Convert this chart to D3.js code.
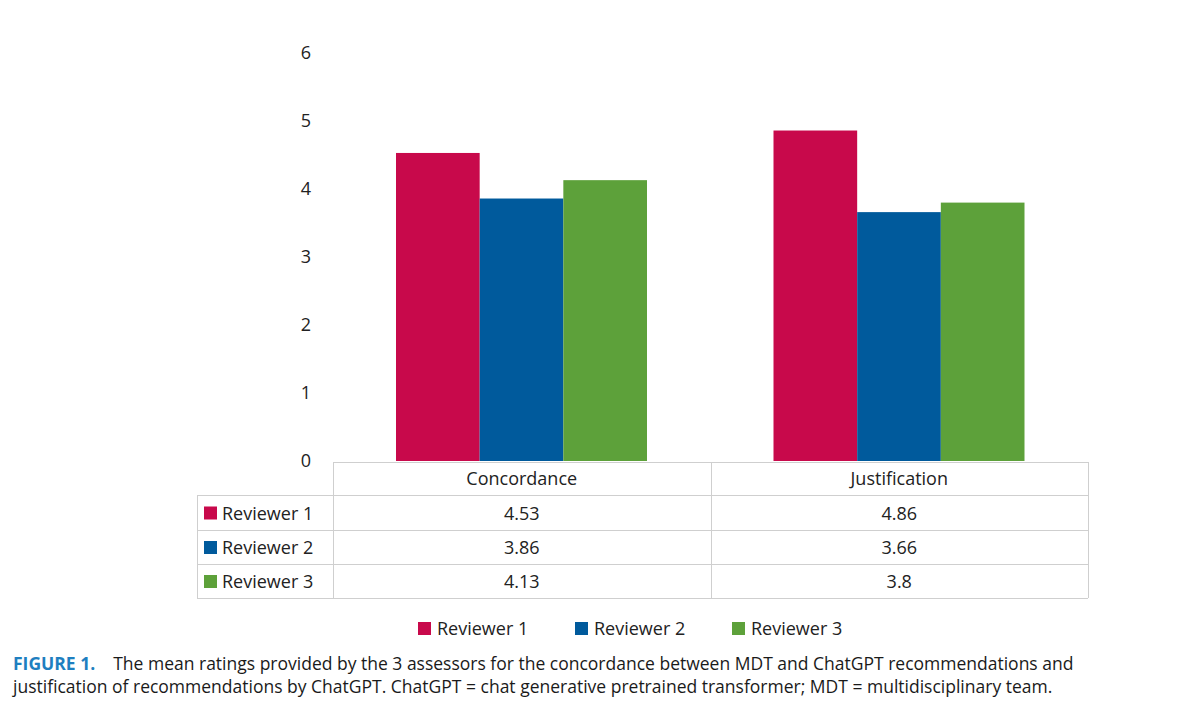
<!DOCTYPE html>
<html><head><meta charset="utf-8">
<script src="https://cdn.jsdelivr.net/npm/d3@7"></script>
<style>body{margin:0;background:#fff}svg{font-family:"Open Sans",sans-serif}</style>
</head><body><svg id="c" width="1200" height="716"></svg>
<script>
const categories = ["Concordance", "Justification"];
const seriesNames = ["Reviewer 1", "Reviewer 2", "Reviewer 3"];
const reviewer1 = [4.53, 4.86];
const reviewer2 = [3.86, 3.66];
const reviewer3 = [4.13, 3.8];
const valueLabels = [["4.53","4.86"],["3.86","3.66"],["4.13","3.8"]];
const yTicks = [0,1,2,3,4,5,6];
const colors = ["#C8094B", "#005A9C", "#5DA13A"];
const series = [reviewer1, reviewer2, reviewer3];

const svg = d3.select("#c");
const x0 = d3.scaleBand().domain(categories).range([333, 1088]).paddingInner(0).paddingOuter(0);
const x1 = d3.scaleBand().domain(seriesNames).range([63, 314]);
const y = d3.scaleLinear().domain([0, 6]).range([461, 53]);

// y axis labels
svg.selectAll(".yt").data(yTicks).enter().append("text")
  .attr("x", 311).attr("y", d => y(d) + 6).attr("text-anchor", "end")
  .attr("font-size", 18).attr("fill", "#222").text(d => d);

// bars
seriesNames.forEach((s, i) => {
  svg.selectAll(".b" + i).data(categories).enter().append("rect")
    .attr("x", c => x0(c) + x1(s)).attr("width", x1.bandwidth())
    .attr("y", (c, j) => y(series[i][j])).attr("height", (c, j) => y(0) - y(series[i][j]))
    .attr("fill", colors[i]);
});

// table
const rowY = [462, 495, 530, 564, 598];
const gc = "#cfcfcf";
const g = svg.append("g").attr("stroke", gc).attr("stroke-width", 1);
g.append("line").attr("x1", 333).attr("x2", 1088).attr("y1", rowY[0]+0.5).attr("y2", rowY[0]+0.5);
for (let r = 1; r < rowY.length; r++)
  g.append("line").attr("x1", 197).attr("x2", 1088).attr("y1", rowY[r]+0.5).attr("y2", rowY[r]+0.5);
[333, 711, 1088].forEach(xx => g.append("line").attr("x1", xx+0.5).attr("x2", xx+0.5).attr("y1", rowY[0]).attr("y2", rowY[4]));
g.append("line").attr("x1", 197.5).attr("x2", 197.5).attr("y1", rowY[1]).attr("y2", rowY[4]);

categories.forEach(c => svg.append("text").attr("x", x0(c) + x0.bandwidth()/2).attr("y", 485)
  .attr("text-anchor", "middle").attr("font-size", 18).attr("fill", "#222").text(c));
seriesNames.forEach((s, i) => {
  const cy = (rowY[i+1] + rowY[i+2]) / 2;
  svg.append("rect").attr("x", 204).attr("y", cy - 6).attr("width", 13).attr("height", 13).attr("fill", colors[i]);
  svg.append("text").attr("x", 222).attr("y", cy + 7).attr("font-size", 18).attr("fill", "#222").text(s);
  categories.forEach((c, j) => svg.append("text").attr("x", x0(c) + x0.bandwidth()/2).attr("y", cy + 7)
    .attr("text-anchor", "middle").attr("font-size", 18).attr("fill", "#222").text(valueLabels[i][j]));
});

// legend
const legX = [418, 575, 732];
seriesNames.forEach((s, i) => {
  svg.append("rect").attr("x", legX[i]).attr("y", 622).attr("width", 13).attr("height", 13).attr("fill", colors[i]);
  svg.append("text").attr("x", legX[i] + 19).attr("y", 635).attr("font-size", 18).attr("fill", "#222").text(s);
});

// caption
const cap = svg.append("text").attr("x", 13).attr("y", 670).attr("font-size", 17.5).attr("fill", "#1a1a1a");
cap.append("tspan").attr("font-weight", "bold").attr("fill", "#1E7FC0").text("FIGURE 1.");
cap.append("tspan").attr("dx", 18).text("The mean ratings provided by the 3 assessors for the concordance between MDT and ChatGPT recommendations and");
svg.append("text").attr("x", 13).attr("y", 693).attr("font-size", 17.5).attr("fill", "#1a1a1a")
  .text("justification of recommendations by ChatGPT. ChatGPT = chat generative pretrained transformer; MDT = multidisciplinary team.");
</script></body></html>
